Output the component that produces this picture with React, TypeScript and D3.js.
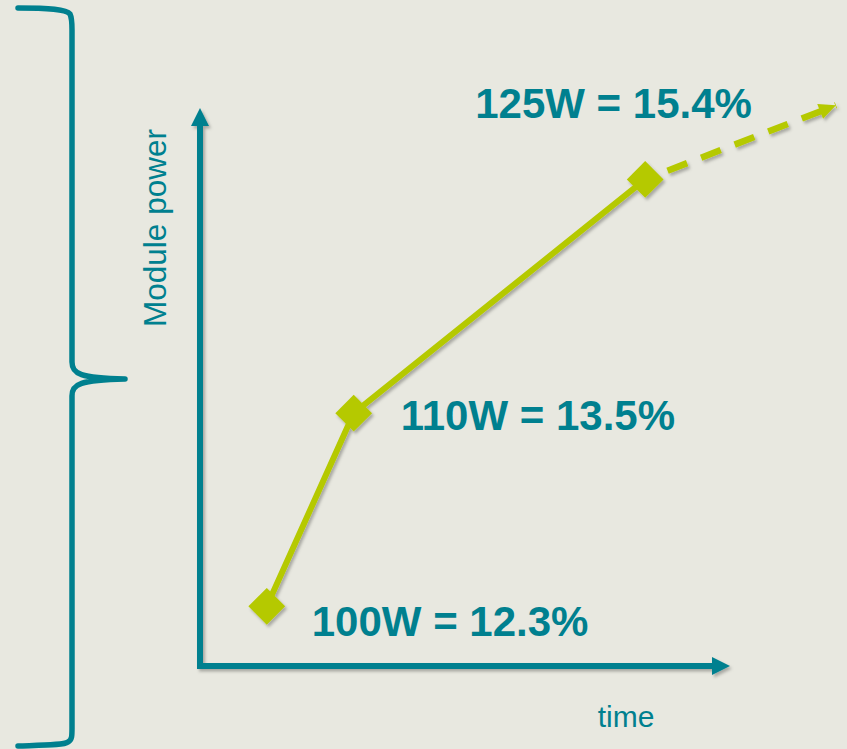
import React from "react";
import * as d3 from "d3";

const W = 847;
const H = 749;

// schematic data (plot units)
const pointTime = [1.26, 2.9, 8.4];
const pointPower = [1.07, 4.53, 8.72];
const pointLabels = ["100W = 12.3%", "110W = 13.5%", "125W = 15.4%"];
const projTime = [8.4, 12.0];
const projPower = [8.72, 10.05];
const yAxisTitle = "Module power";
const xAxisTitle = "time";

const BG = "#E8E8E0";
const TEAL = "#00808F";
const GREEN = "#B5C900";

export default function App() {
  const x = d3.scaleLinear().domain([0, 10]).range([200, 730]);
  const y = d3.scaleLinear().domain([0, 10]).range([666, 108]);

  const line = d3
    .line<number>()
    .x((_, i) => x(pointTime[i]))
    .y((d) => y(d));
  const proj = d3
    .line<number>()
    .x((_, i) => x(projTime[i]))
    .y((d) => y(d));

  const sym = d3.symbol().type(d3.symbolSquare).size(26 * 26);

  const x0 = x(0), y0 = y(0);
  const xEnd = x(10), yEnd = y(10);

  const px1 = x(projTime[0]), py1 = y(projPower[0]);
  const px2 = x(projTime[1]), py2 = y(projPower[1]);
  const ang = (Math.atan2(py2 - py1, px2 - px1) * 180) / Math.PI;

  const labelOffsets = [
    { dx: 45, dy: 30 },
    { dx: 47, dy: 17 },
    { dx: -170, dy: -61 },
  ];

  const brace =
    "M18,8 C50,8 66,9 70,14 C72,18 72,22 72,30 L72,362 C72,374 80,378 125,379" +
    " M125,379 C80,380 72,384 72,396 L72,728 C72,736 72,740 68,742 C64,745 50,745 18,746";

  return (
    <svg
      width={W}
      height={H}
      style={{ position: "absolute", left: 0, top: 0, background: BG }}
      fontFamily="'Liberation Sans', Arial, sans-serif"
    >
      <defs>
        <filter id="sh" x="-10%" y="-10%" width="130%" height="130%">
          <feDropShadow dx="2" dy="2.5" stdDeviation="1.5" floodColor="#000" floodOpacity="0.28" />
        </filter>
      </defs>
      <rect x={0} y={0} width={W} height={H} fill={BG} />

      <path d={brace} fill="none" stroke={TEAL} strokeWidth={5.5} strokeLinecap="round" strokeLinejoin="round" />

      <g filter="url(#sh)">
        <path
          d={`M${x0},${yEnd + 16} L${x0},${y0} L${xEnd - 16},${y0}`}
          fill="none"
          stroke={TEAL}
          strokeWidth={6}
          strokeLinejoin="miter"
        />
        <path d={`M${x0},${yEnd} L${x0 + 9},${yEnd + 18} L${x0 - 9},${yEnd + 18} Z`} fill={TEAL} />
        <path d={`M${xEnd},${y0} L${xEnd - 18},${y0 - 9} L${xEnd - 18},${y0 + 9} Z`} fill={TEAL} />
      </g>

      <text
        transform={`translate(166,${(128 + 328) / 2}) rotate(-90)`}
        textAnchor="middle"
        fill={TEAL}
        fontSize={31.5}
      >
        {yAxisTitle}
      </text>
      <text x={626} y={727} textAnchor="middle" fill={TEAL} fontSize={30}>
        {xAxisTitle}
      </text>

      <g filter="url(#sh)">
        <path d={line(pointPower) || ""} fill="none" stroke={GREEN} strokeWidth={6} />
        <path
          d={proj([projPower[0], projPower[1]]) || ""}
          fill="none"
          stroke={GREEN}
          strokeWidth={6.5}
          strokeDasharray="21 15"
          strokeDashoffset={-24}
        />
        <path
          d="M0,0 L-17,-8 L-17,8 Z"
          fill={GREEN}
          transform={`translate(${px2},${py2}) rotate(${ang})`}
        />
        {pointPower.map((p, i) => (
          <path
            key={i}
            d={sym() || ""}
            fill={GREEN}
            transform={`translate(${x(pointTime[i])},${y(p)}) rotate(45)`}
          />
        ))}
      </g>

      {pointPower.map((p, i) => (
        <text
          key={i}
          x={x(pointTime[i]) + labelOffsets[i].dx}
          y={y(p) + labelOffsets[i].dy}
          fill={TEAL}
          fontSize={42}
          fontWeight="bold"
        >
          {pointLabels[i]}
        </text>
      ))}
    </svg>
  );
}
